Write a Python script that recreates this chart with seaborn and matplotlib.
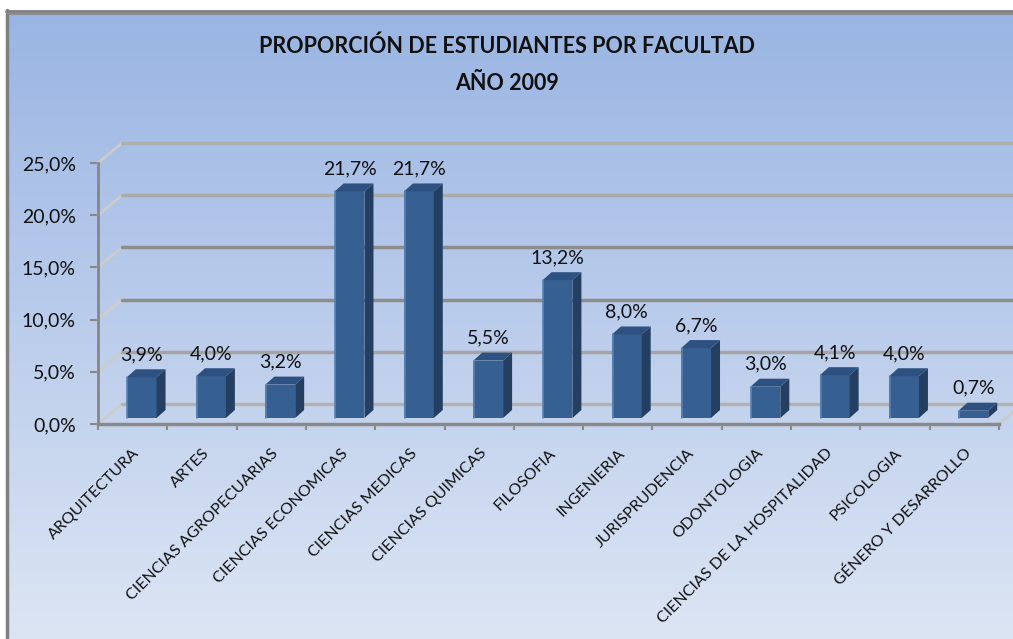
import numpy as np
import matplotlib.pyplot as plt
import seaborn as sns
from matplotlib.patches import Polygon
from matplotlib.colors import LinearSegmentedColormap

# Data
facultades = ["ARQUITECTURA", "ARTES", "CIENCIAS AGROPECUARIAS", "CIENCIAS ECONOMICAS",
              "CIENCIAS MEDICAS", "CIENCIAS QUIMICAS", "FILOSOFIA", "INGENIERIA",
              "JURISPRUDENCIA", "ODONTOLOGIA", "CIENCIAS DE LA HOSPITALIDAD",
              "PSICOLOGIA", "GÉNERO Y DESARROLLO"]
proporcion = [3.9, 4.0, 3.2, 21.7, 21.7, 5.5, 13.2, 8.0, 6.7, 3.0, 4.1, 4.0, 0.7]
y_ticks = [0, 5, 10, 15, 20, 25]
titulo = ["PROPORCIÓN DE ESTUDIANTES POR FACULTAD", "AÑO 2009"]

W, H = 1013, 639
sns.set_theme(style="white")
plt.rcParams['font.family'] = ['Lato', 'DejaVu Sans']

fig = plt.figure(figsize=(W / 100, H / 100), dpi=100)

# gradient background of the chart area + border
bg = fig.add_axes([0, 0, 1, 1], zorder=0)
bg.set_xlim(0, W)
bg.set_ylim(H, 0)
bg.axis('off')
cmap = LinearSegmentedColormap.from_list('bg', ['#9ab5e3', '#dce5f4'])
bg.imshow(np.linspace(0, 1, 256)[:, None], cmap=cmap, extent=[7, W, H, 12], aspect='auto')
bg.plot([7, 7], [10, H], color='#808080', lw=2.5)
bg.plot([6, W], [11, 11], color='#808080', lw=2)
bg.plot([8, W], [14, 14], color='#8c8c8c', lw=1.5)

# main plotting area (front plane of the 3D box)
left_px, right_px, base_px, top_px = 98, 999, 424, 163
ax = fig.add_axes([left_px / W, (H - base_px) / H, (right_px - left_px) / W, (base_px - top_px) / H],
                  zorder=1)
ax.set_facecolor('none')

front, side, top = '#376092', '#243f62', '#2d5180'
sns.barplot(x=facultades, y=proporcion, color=front, width=0.43, saturation=1,
            errorbar=None, ax=ax, zorder=3)
ax.set_xlim(-0.5, len(facultades) - 0.5)
ax.set_ylim(0, 25)

ux = len(facultades) / (right_px - left_px)   # data units per pixel
uy = 25 / (base_px - top_px)

# back wall gridlines and side-wall diagonals
bx, by = 24 * ux, 20 * uy
x_end = (W - left_px) * ux - 0.5
grid_cols = ['#b2b2b2', '#a4a4a4', '#8c8c8c', '#8c8c8c', '#ababab', '#b0b0b0']
for v, gc in zip(y_ticks, grid_cols):
    ax.plot([-0.5, -0.5 + bx], [v, v + by], color='#cccccc', lw=2, clip_on=False, zorder=1)
    ax.plot([-0.5 + bx, x_end], [v + by, v + by], color=gc, lw=2.5,
            clip_on=False, zorder=1)
ax.plot([len(facultades) - 0.5, len(facultades) - 0.5 + 0.6 * bx], [0, 0.6 * by],
        color='#c9c9c9', lw=2, clip_on=False, zorder=1)

# 3D faces on each bar
sx, sy = 9 * ux, 6 * uy
dx, dy = 9 * ux, 8 * uy
for p, v in zip(ax.patches, proporcion):
    x0 = p.get_x() + sx
    w, h = p.get_width(), p.get_height()
    p.set_x(x0)
    p.set_y(sy)
    p.set_edgecolor('none')
    p.set_clip_on(False)
    ax.add_patch(Polygon([(x0 + w, sy), (x0 + w + dx, sy + dy), (x0 + w + dx, sy + h + dy),
                          (x0 + w, sy + h)], closed=True, facecolor=side, edgecolor='none',
                         zorder=3, clip_on=False))
    ax.add_patch(Polygon([(x0, sy + h), (x0 + dx, sy + h + dy), (x0 + w + dx, sy + h + dy),
                          (x0 + w, sy + h)], closed=True, facecolor=top, edgecolor='none',
                         zorder=3, clip_on=False))
    ax.plot([x0 + 0.01, x0 + 0.01], [sy, sy + h], color='#5a82b4', lw=1.2, zorder=4,
            clip_on=False)
    ax.annotate(f"{v:.1f}%".replace('.', ','), (x0 + w / 2, h), xytext=(0, 23),
                textcoords='offset pixels', ha='center', va='baseline', fontsize=14,
                color='#111111', zorder=5, annotation_clip=False)

# axes styling
for s in ['top', 'right']:
    ax.spines[s].set_visible(False)
ax.spines['left'].set_color('#868686')
ax.spines['left'].set_linewidth(2)
ax.spines['bottom'].set_color('#8a8a8a')
ax.spines['bottom'].set_linewidth(2.5)

ax.set_yticks(y_ticks)
ax.set_yticklabels([f"{t:.1f}%".replace('.', ',') for t in y_ticks], fontsize=14, color='#111111')
ax.tick_params(axis='y', length=6, width=1.5, color='#868686', pad=10, left=True)

ax.set_xticks(range(len(facultades)))
ax.set_xticks(np.arange(-0.5, len(facultades)), minor=True)
ax.tick_params(axis='x', which='major', length=0, pad=16)
ax.tick_params(axis='x', which='minor', length=4, width=1.5, color='#8a8a8a', bottom=True)
ax.set_xticklabels(facultades, rotation=45, ha='right', va='top', rotation_mode='anchor',
                   fontsize=11.5, color='#111111')
ax.set_xlabel('')
ax.set_ylabel('')

fig.text(507 / W, 1 - 46 / H, titulo[0], ha='center', va='center', fontsize=15.5,
         fontweight='bold', color='#111111')
fig.text(507 / W, 1 - 83 / H, titulo[1], ha='center', va='center', fontsize=15.5,
         fontweight='bold', color='#111111')

fig.savefig('out.png', dpi=100)
